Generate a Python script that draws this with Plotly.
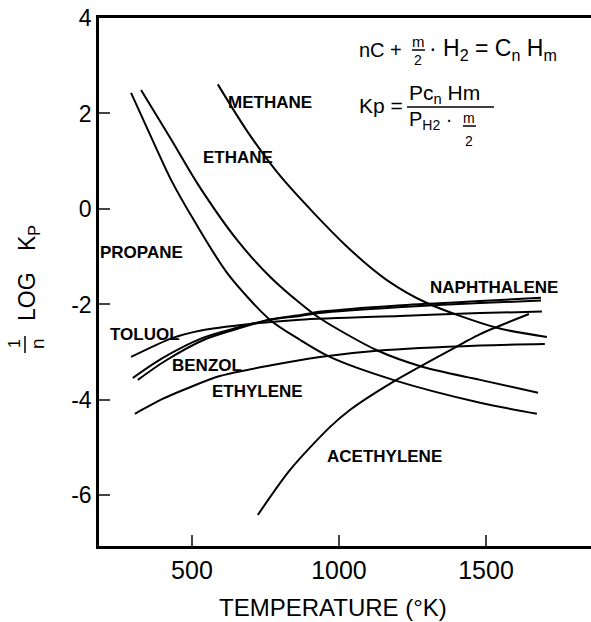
import plotly.graph_objects as go

# curves: temperature (K) and 1/n log Kp
methane_t = [588, 690, 803, 1024, 1163, 1299, 1537, 1707]
methane_v = [2.61, 1.61, 0.67, -0.77, -1.49, -1.97, -2.49, -2.68]

ethane_t = [327, 429, 520, 656, 769, 867, 935, 1129, 1286, 1480, 1677]
ethane_v = [2.49, 1.46, 0.52, -0.67, -1.44, -1.97, -2.29, -2.96, -3.31, -3.58, -3.85]

propane_t = [293, 361, 429, 510, 622, 765, 867, 969, 1184, 1480, 1673]
propane_v = [2.43, 1.51, 0.61, -0.27, -1.36, -2.32, -2.74, -3.10, -3.58, -4.06, -4.29]

toluol_t = [293, 435, 527, 697, 867, 1207, 1480, 1690]
toluol_v = [-3.10, -2.70, -2.55, -2.41, -2.32, -2.24, -2.18, -2.15]

benzol_t = [299, 401, 537, 653, 765, 867, 935, 1200, 1480, 1687]
benzol_v = [-3.54, -3.12, -2.70, -2.49, -2.32, -2.24, -2.18, -2.06, -1.97, -1.92]

naphth_t = [316, 410, 545, 660, 770, 870, 940, 1200, 1480, 1687]
naphth_v = [-3.58, -3.18, -2.73, -2.50, -2.31, -2.22, -2.15, -2.02, -1.93, -1.86]

ethylene_t = [306, 400, 483, 595, 765, 935, 1129, 1480, 1700]
ethylene_v = [-4.29, -3.98, -3.76, -3.50, -3.28, -3.10, -2.97, -2.86, -2.83]

acetyl_t = [724, 833, 969, 1037, 1184, 1422, 1480, 1646]
acetyl_v = [-6.41, -5.47, -4.57, -4.21, -3.62, -2.81, -2.62, -2.20]

labels = ["METHANE", "ETHANE", "PROPANE", "NAPHTHALENE", "TOLUOL", "BENZOL", "ETHYLENE", "ACETHYLENE"]
label_t = [765, 656, 330, 1527, 340, 551, 724, 1156]
label_v = [2.22, 1.07, -0.92, -1.65, -2.62, -3.27, -3.83, -5.19]

x_ticks = [500, 1000, 1500]
y_ticks = [-6, -4, -2, 0, 2, 4]
y_ticktext = ["-6", "-4", "-2", "0", "2", "4"]

W, H = 591, 622
L, R, T, B = 99, 0, 18, 76
FONT = "Liberation Sans, Arial, sans-serif"


def px(x, y):
    # pixel position -> paper coords
    return (x - L) / (W - L - R), (H - B - y) / (H - T - B)


fig = go.Figure()

curves = [
    (methane_t, methane_v), (ethane_t, ethane_v), (propane_t, propane_v),
    (toluol_t, toluol_v), (benzol_t, benzol_v), (naphth_t, naphth_v),
    (ethylene_t, ethylene_v), (acetyl_t, acetyl_v),
]
for t, v in curves:
    fig.add_trace(go.Scatter(x=t, y=v, mode="lines",
                             line=dict(color="black", width=2, shape="spline", smoothing=0.8),
                             showlegend=False, hoverinfo="skip"))

for name, t, v in zip(labels, label_t, label_v):
    fig.add_annotation(x=t, y=v, text="<b>" + name + "</b>", showarrow=False,
                       font=dict(family=FONT, size=17, color="black"))


def note(x, y, text, size, anchor="center", angle=0):
    px_x, px_y = px(x, y)
    fig.add_annotation(xref="paper", yref="paper", x=px_x, y=px_y, text=text,
                       showarrow=False, xanchor=anchor, yanchor="middle", textangle=angle,
                       font=dict(family=FONT, size=size, color="black"))


def bar(x0, x1, y0, y1):
    a0, b0 = px(x0, y0)
    a1, b1 = px(x1, y1)
    fig.add_shape(type="line", xref="paper", yref="paper", x0=a0, x1=a1, y0=b0, y1=b1,
                  line=dict(color="black", width=1.5))


# equation block, top right
note(357, 50, "nC +", 20, "left")
note(418, 42, "m", 15)
bar(412, 425, 50, 50)
note(418, 60, "2", 14)
note(427, 50, "· H<sub>2</sub> = C<sub>n</sub> H<sub>m</sub>", 23, "left")

note(357, 106, "Kp =", 21, "left")
note(407, 94, "Pc<sub>n</sub> Hm", 21, "left")
bar(407, 494, 107, 107)
note(407, 120, "P<sub>H2</sub> ·", 20, "left")
note(469, 118, "m", 14)
bar(463, 476, 126, 126)
note(469, 141, "2", 14)

# axis titles
note(333, 607, "TEMPERATURE (°K)", 24)
note(27, 297, "LOG", 23, angle=-90)
note(29, 238, "K<sub>P</sub>", 23, angle=-90)
note(14, 344, "1", 16, angle=-90)
bar(25, 25, 336, 353)
note(37, 344, "n", 19, angle=-90)

fig.update_xaxes(range=[184, 1857], tickvals=x_ticks, ticks="inside", ticklen=11, tickwidth=2,
                 showline=True, linewidth=2.5, linecolor="black", mirror=True,
                 showgrid=False, zeroline=False, ticklabelstandoff=0,
                 tickfont=dict(family=FONT, size=25, color="black"))
fig.update_yaxes(range=[-7.06, 4.0], tickvals=y_ticks, ticktext=y_ticktext, ticks="inside",
                 ticklen=11, tickwidth=2, showline=True, linewidth=2.5, linecolor="black",
                 showgrid=False, zeroline=False,
                 tickfont=dict(family=FONT, size=23, color="black"))

fig.update_layout(width=W, height=H, margin=dict(l=L, r=R, t=T, b=B),
                  plot_bgcolor="white", paper_bgcolor="white")

fig.write_html("out.html", config={"displayModeBar": False},
               post_script="document.body.style.margin='0';document.body.style.overflow='hidden';")
